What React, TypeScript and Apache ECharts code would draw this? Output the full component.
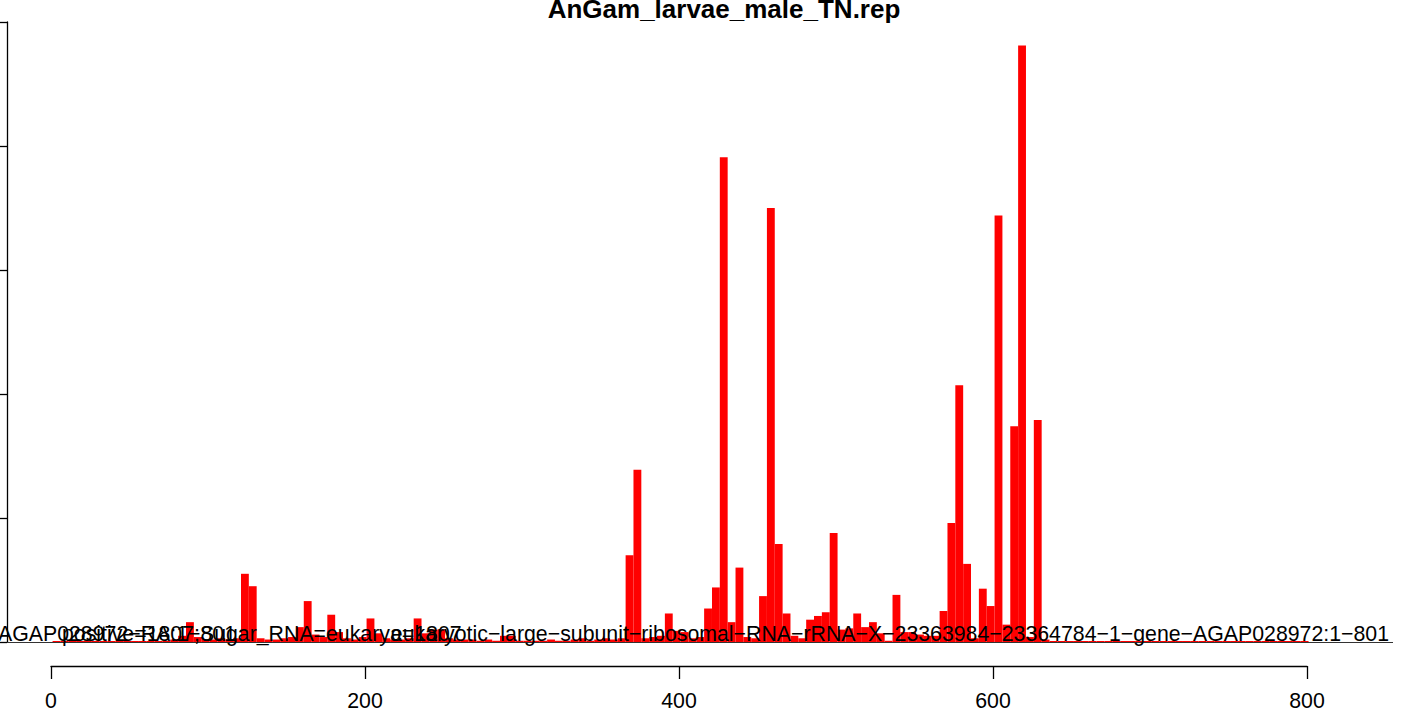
import React, { useEffect, useRef } from "react";
import * as echarts from "echarts";

// histogram bins: start at 1, width 5 (1..801)
const binStart = 1;
const binWidth = 5;
const coverage = [
  0, 0, 0, 0, 0, 0, 0, 0, 0, 0,
  0, 0, 0, 0, 0, 2, 5, 16, 4, 2,
  2, 3, 2, 3, 55, 45, 3, 2, 2, 3,
  4, 12, 33, 6, 4, 22, 8, 3, 2, 4,
  19, 7, 3, 2, 2, 3, 19, 7, 10, 10,
  3, 2, 2, 2, 1, 2, 1, 5, 5, 1,
  1, 1, 1, 2, 1, 1, 2, 3, 1, 2,
  3, 2, 3, 70, 139, 3, 4, 5, 23, 9,
  8, 3, 4, 27, 44, 391, 16, 60, 4, 3,
  37, 350, 79, 23, 5, 3, 18, 21, 24, 88,
  10, 11, 23, 12, 16, 7, 1, 38, 8, 8,
  6, 5, 5, 25, 96, 207, 63, 3, 43, 29,
  344, 14, 174, 481, 4, 179, 2, 0, 0, 0,
  0, 0, 0, 0, 0, 0, 0, 0, 0, 0,
  0, 0, 0, 0, 0, 0, 0, 0, 0, 0,
  0, 0, 0, 0, 0, 0, 0, 0, 0, 0,
];
const xTickValues = [0, 200, 400, 600, 800];
const yTickValues = [0, 100, 200, 300, 400, 500];
const titleText = "AnGam_larvae_male_TN.rep";
const labelA = "AGAP028972\u2212RA:1\u2212801";
const labelB = "positive=1807;Sugar_RNA=eukarya=1807";
const labelC =
  "eukaryotic\u2212large\u2212subunit\u2212ribosomal\u2212RNA\u2212rRNA\u2212X\u221223363984\u221223364784\u22121\u2212gene\u2212AGAP028972:1\u2212801";

const FONT = "'Liberation Sans', Arial, Helvetica, sans-serif";

export default function App() {
  const ref = useRef<HTMLDivElement>(null);

  useEffect(() => {
    if (!ref.current) return;
    const chart = echarts.init(ref.current, undefined, { renderer: "svg" });

    const bars = coverage.map((v, i) => [
      binStart + i * binWidth,
      binStart + (i + 1) * binWidth,
      v,
    ]);

    const pxPerUnit = (1307 - 51) / 800;
    const plotMin = -(51 - 7) / pxPerUnit;
    const plotMax = 800 + (1393 - 1307) / pxPerUnit;

    const option: any = {
      animation: false,
      backgroundColor: "#ffffff",
      grid: [
        { left: 7, right: 14, top: 22, bottom: 75, containLabel: false },
        { left: 51, right: 100, top: 22, bottom: 75, containLabel: false },
      ],
      xAxis: [
        {
          gridIndex: 0,
          type: "value",
          min: plotMin,
          max: plotMax,
          show: false,
          axisLine: { onZero: false },
        },
        {
          gridIndex: 1,
          type: "value",
          min: xTickValues[0],
          max: xTickValues[xTickValues.length - 1],
          interval: xTickValues[1] - xTickValues[0],
          position: "bottom",
          offset: 24,
          axisLine: { show: true, onZero: false, lineStyle: { color: "#000", width: 1.3 } },
          axisTick: { show: true, inside: false, length: 13, lineStyle: { color: "#000", width: 1.3 } },
          axisLabel: {
            show: true,
            color: "#000",
            fontFamily: FONT,
            fontSize: 21.3,
            margin: 24,
          },
          splitLine: { show: false },
        },
      ],
      yAxis: [
        {
          gridIndex: 0,
          type: "value",
          position: "left",
          min: yTickValues[0],
          max: yTickValues[yTickValues.length - 1],
          interval: yTickValues[1] - yTickValues[0],
          axisLine: { show: true, onZero: false, lineStyle: { color: "#000", width: 1.3 } },
          axisTick: { show: true, inside: false, length: 13, lineStyle: { color: "#000", width: 1.3 } },
          axisLabel: { show: false },
          splitLine: { show: false },
        },
        {
          gridIndex: 1,
          type: "value",
          min: 0,
          max: 1,
          show: false,
          axisLine: { onZero: false },
        },
      ],
      series: [
        {
          type: "custom",
          xAxisIndex: 0,
          yAxisIndex: 0,
          data: bars,
          encode: { x: [0, 1], y: 2 },
          renderItem: (params: any, api: any) => {
            const x0 = api.value(0);
            const x1 = api.value(1);
            const v = api.value(2);
            const p0 = api.coord([x0, v]);
            const p1 = api.coord([x1, 0]);
            const h = Math.max(p1[1] - p0[1], 1);
            return {
              type: "rect",
              shape: { x: p0[0], y: p1[1] - h, width: p1[0] - p0[0], height: h },
              style: { fill: "#ff0000" },
            };
          },
          markLine: {
            silent: true,
            symbol: "none",
            label: { show: false },
            lineStyle: { color: "#333", type: "solid", width: 1 },
            data: [{ yAxis: 0 }],
            z: 1,
          },
          z: 2,
        },
      ],
      graphic: [
        {
          type: "text",
          x: 724,
          y: 9,
          z: 10,
          style: {
            text: titleText,
            font: `bold 26px ${FONT}`,
            fill: "#000",
            textAlign: "center",
            textVerticalAlign: "middle",
          },
        },
        {
          type: "text",
          x: -2,
          y: 634,
          z: 10,
          style: {
            text: labelA,
            font: `21.3px ${FONT}`,
            fill: "#000",
            textAlign: "left",
            textVerticalAlign: "middle",
          },
        },
        {
          type: "text",
          x: 62,
          y: 634,
          z: 10,
          style: {
            text: labelB,
            font: `21.3px ${FONT}`,
            fill: "#000",
            textAlign: "left",
            textVerticalAlign: "middle",
          },
        },
        {
          type: "text",
          x: 1389,
          y: 634,
          z: 10,
          style: {
            text: labelC,
            font: `21.3px ${FONT}`,
            fill: "#000",
            textAlign: "right",
            textVerticalAlign: "middle",
          },
        },
      ],
    };

    chart.setOption(option);
    return () => chart.dispose();
  }, []);

  return (
    <div
      ref={ref}
      style={{ position: "fixed", left: 0, top: 0, width: 1407, height: 717, background: "#fff" }}
    />
  );
}
